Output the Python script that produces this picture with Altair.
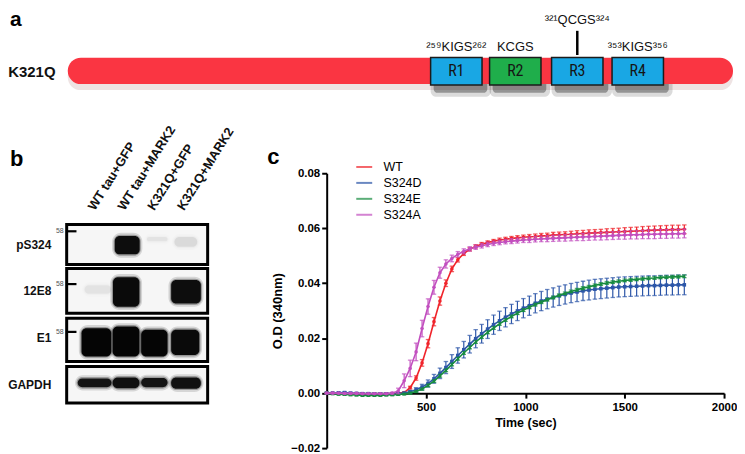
import altair as alt
import pandas as pd

FONT = "Liberation Sans, Arial, sans-serif"
NARROW = "Liberation Sans Narrow, Roboto Condensed, Liberation Sans, sans-serif"

# ------------------------------------------------------------------ panel a data
protein_start = [1]
protein_end = [441]
repeat_names = ["R1", "R2", "R3", "R4"]
repeat_start = [241, 280, 321, 361]
repeat_end = [275, 314, 355, 395]
repeat_colors = ["#19a7e4", "#1fae4b", "#19a7e4", "#19a7e4"]
motif_labels = ["²⁵⁹KIGS²⁶²", "KCGS", "³²¹QCGS³²⁴", "³⁵³KIGS³⁵⁶"]
motif_raised = [False, False, True, False]
construct_name = "K321Q"

# ------------------------------------------------------------------ panel b data
lane_labels = ["WT tau+GFP", "WT tau+MARK2", "K321Q+GFP", "K321Q+MARK2"]
lane_pos = [1, 2, 3, 4]
blot_rows = ["pS324", "12E8", "E1", "GAPDH"]
blot_row_pos = [1, 2, 3, 4]
blot_row_top = [0.574, 1.51, 2.574, 3.604]
blot_row_bottom = [1.426, 2.468, 3.497, 4.383]
marker_rows = [0.717, 1.845, 2.866]
marker_label = "58"
band_lane_lo = [1.62, 2.70, 3.63, 0.60, 1.56, 3.52, 0.50, 1.55, 2.51, 3.52, 0.37, 1.55, 2.51, 3.52]
band_lane_hi = [2.46, 3.40, 4.40, 1.50, 2.45, 4.52, 1.50, 2.45, 3.40, 4.47, 1.51, 2.45, 3.40, 4.52]
band_row_lo = [0.82, 0.84, 0.84, 1.87, 1.70, 1.76, 2.79, 2.75, 2.82, 2.82, 3.86, 3.84, 3.85, 3.84]
band_row_hi = [1.21, 0.93, 1.05, 2.05, 2.33, 2.26, 3.39, 3.39, 3.39, 3.36, 4.05, 4.07, 4.05, 4.08]
band_density = [0.95, 0.05, 0.08, 0.05, 0.97, 0.95, 1.0, 1.0, 1.0, 0.97, 0.9, 0.93, 0.9, 0.93]

# ------------------------------------------------------------------ panel c data
time_s = [0, 30, 60, 90, 120, 150, 180, 210, 240, 270,
          300, 330, 360, 390, 420, 450, 480, 510, 540, 570,
          600, 630, 660, 690, 720, 750, 780, 810, 840, 870,
          900, 930, 960, 990, 1020, 1050, 1080, 1110, 1140, 1170,
          1200, 1230, 1260, 1290, 1320, 1350, 1380, 1410, 1440, 1470,
          1500, 1530, 1560, 1590, 1620, 1650, 1680, 1710, 1740, 1770,
          1800]
wt = [0.0000, 0.0000, -0.0001, -0.0001, -0.0002, -0.0002, -0.0003, -0.0003, -0.0003, -0.0003,
      -0.0003, -0.0002, -0.0001, 0.0002, 0.0020, 0.0055, 0.0110, 0.0180, 0.0260, 0.0335,
      0.0400, 0.0452, 0.0485, 0.0508, 0.0523, 0.0534, 0.0542, 0.0548, 0.0553, 0.0557,
      0.0560, 0.0563, 0.0565, 0.0567, 0.0569, 0.0570, 0.0572, 0.0573, 0.0575, 0.0576,
      0.0577, 0.0578, 0.0580, 0.0581, 0.0582, 0.0583, 0.0584, 0.0585, 0.0586, 0.0587,
      0.0588, 0.0589, 0.0590, 0.0591, 0.0592, 0.0593, 0.0594, 0.0594, 0.0595, 0.0595,
      0.0596]
wt_err = [0.0002, 0.0002, 0.0002, 0.0002, 0.0002, 0.0002, 0.0002, 0.0002, 0.0002, 0.0002,
          0.0002, 0.0002, 0.0002, 0.0003, 0.0005, 0.0008, 0.0012, 0.0015, 0.0015, 0.0015,
          0.0012, 0.0010, 0.0008, 0.0007, 0.0006, 0.0006, 0.0006, 0.0006, 0.0006, 0.0007,
          0.0007, 0.0007, 0.0008, 0.0008, 0.0008, 0.0009, 0.0009, 0.0009, 0.0010, 0.0010,
          0.0010, 0.0011, 0.0011, 0.0011, 0.0012, 0.0012, 0.0012, 0.0013, 0.0013, 0.0013,
          0.0014, 0.0014, 0.0014, 0.0015, 0.0015, 0.0015, 0.0015, 0.0016, 0.0016, 0.0016,
          0.0016]
s324d = [0.0000, 0.0000, 0.0001, 0.0002, 0.0000, -0.0001, -0.0002, -0.0002, -0.0003, -0.0003,
         -0.0003, -0.0003, -0.0002, 0.0000, 0.0005, 0.0012, 0.0022, 0.0035, 0.0052, 0.0072,
         0.0093, 0.0115, 0.0137, 0.0158, 0.0178, 0.0198, 0.0216, 0.0233, 0.0249, 0.0263,
         0.0276, 0.0288, 0.0299, 0.0309, 0.0318, 0.0327, 0.0335, 0.0342, 0.0348, 0.0354,
         0.0359, 0.0364, 0.0368, 0.0372, 0.0375, 0.0378, 0.0380, 0.0382, 0.0384, 0.0386,
         0.0387, 0.0388, 0.0389, 0.0390, 0.0391, 0.0391, 0.0392, 0.0393, 0.0393, 0.0394,
         0.0394]
s324d_err = [0.0003, 0.0003, 0.0003, 0.0003, 0.0003, 0.0003, 0.0003, 0.0003, 0.0003, 0.0003,
             0.0003, 0.0003, 0.0003, 0.0003, 0.0005, 0.0008, 0.0010, 0.0013, 0.0016, 0.0019,
             0.0022, 0.0025, 0.0028, 0.0030, 0.0032, 0.0033, 0.0034, 0.0034, 0.0035, 0.0035,
             0.0035, 0.0035, 0.0035, 0.0035, 0.0035, 0.0035, 0.0035, 0.0035, 0.0035, 0.0035,
             0.0035, 0.0035, 0.0035, 0.0035, 0.0036, 0.0036, 0.0036, 0.0036, 0.0036, 0.0036,
             0.0036, 0.0036, 0.0036, 0.0036, 0.0036, 0.0036, 0.0036, 0.0036, 0.0036, 0.0036,
             0.0036]
s324e = [0.0000, -0.0002, -0.0004, -0.0005, -0.0006, -0.0007, -0.0008, -0.0008, -0.0008, -0.0008,
         -0.0007, -0.0006, -0.0005, -0.0003, 0.0000, 0.0006, 0.0015, 0.0028, 0.0044, 0.0063,
         0.0083, 0.0104, 0.0125, 0.0146, 0.0166, 0.0186, 0.0204, 0.0221, 0.0237, 0.0252,
         0.0266, 0.0279, 0.0291, 0.0302, 0.0312, 0.0322, 0.0331, 0.0340, 0.0348, 0.0356,
         0.0363, 0.0370, 0.0376, 0.0382, 0.0387, 0.0392, 0.0397, 0.0401, 0.0404, 0.0407,
         0.0410, 0.0412, 0.0414, 0.0416, 0.0418, 0.0419, 0.0421, 0.0422, 0.0423, 0.0424,
         0.0425]
s324e_err = [0.0003, 0.0003, 0.0003, 0.0003, 0.0003, 0.0003, 0.0003, 0.0003, 0.0003, 0.0003,
             0.0003, 0.0003, 0.0003, 0.0003, 0.0004, 0.0004, 0.0004, 0.0005, 0.0005, 0.0005,
             0.0005, 0.0005, 0.0005, 0.0005, 0.0005, 0.0005, 0.0005, 0.0005, 0.0005, 0.0005,
             0.0005, 0.0005, 0.0005, 0.0005, 0.0005, 0.0005, 0.0005, 0.0005, 0.0005, 0.0005,
             0.0005, 0.0005, 0.0005, 0.0005, 0.0005, 0.0005, 0.0005, 0.0005, 0.0005, 0.0005,
             0.0005, 0.0005, 0.0005, 0.0005, 0.0005, 0.0005, 0.0005, 0.0005, 0.0005, 0.0005,
             0.0005]
s324a = [0.0000, 0.0000, 0.0000, -0.0001, -0.0001, -0.0001, -0.0002, -0.0002, -0.0002, -0.0002,
         -0.0002, 0.0000, 0.0008, 0.0045, 0.0090, 0.0150, 0.0235, 0.0315, 0.0385, 0.0438,
         0.0470, 0.0490, 0.0505, 0.0516, 0.0525, 0.0531, 0.0536, 0.0541, 0.0545, 0.0548,
         0.0551, 0.0553, 0.0555, 0.0557, 0.0558, 0.0560, 0.0561, 0.0562, 0.0563, 0.0564,
         0.0565, 0.0566, 0.0567, 0.0568, 0.0569, 0.0570, 0.0571, 0.0572, 0.0573, 0.0574,
         0.0575, 0.0576, 0.0576, 0.0577, 0.0578, 0.0578, 0.0579, 0.0579, 0.0580, 0.0580,
         0.0581]
s324a_err = [0.0002, 0.0002, 0.0002, 0.0002, 0.0002, 0.0002, 0.0002, 0.0002, 0.0002, 0.0002,
             0.0002, 0.0003, 0.0010, 0.0025, 0.0030, 0.0032, 0.0030, 0.0028, 0.0025, 0.0020,
             0.0015, 0.0012, 0.0010, 0.0009, 0.0008, 0.0008, 0.0008, 0.0008, 0.0008, 0.0008,
             0.0008, 0.0009, 0.0009, 0.0009, 0.0010, 0.0010, 0.0010, 0.0011, 0.0011, 0.0011,
             0.0012, 0.0012, 0.0012, 0.0013, 0.0013, 0.0013, 0.0014, 0.0014, 0.0014, 0.0014,
             0.0015, 0.0015, 0.0015, 0.0015, 0.0016, 0.0016, 0.0016, 0.0016, 0.0016, 0.0016,
             0.0016]
series_names = ["WT", "S324D", "S324E", "S324A"]
series_colors = ["#f0242b", "#2c56a8", "#178c3f", "#c24fbf"]
series_shapes = ["circle", "square", "triangle-up", "circle"]
y_ticks = [-0.02, 0.0, 0.02, 0.04, 0.06, 0.08]
x_ticks = [500, 1000, 1500, 2000]

# ================================================================== panel a
A_W, A_H = 729, 164.7
xa = alt.Scale(domain=[-38.52, 441.66], nice=False, zero=False)
ya = alt.Scale(domain=[0, A_H], nice=False, zero=False, reverse=True)
BAR_Y = (49.0, 75.5)
BOX_Y = (48.7, 76.3)
MOTIF_BASE = 42.0
RAISED_BASE = 15.3
TICK_Y = (22.0, 46.3)


def AX(f):
    return alt.X(f, type="quantitative", scale=xa, axis=None)


def AY(f):
    return alt.Y(f, type="quantitative", scale=ya, axis=None)


centers = [(s + e) / 2 for s, e in zip(repeat_start, repeat_end)]

bar_shadow_df = pd.DataFrame({"x0": protein_start, "x1": protein_end,
                              "y0": [BAR_Y[0] + 5], "y1": [BAR_Y[1] + 6]})
bar_df = pd.DataFrame({"x0": protein_start, "x1": protein_end,
                       "y0": [BAR_Y[0]], "y1": [BAR_Y[1]]})
box_df = pd.DataFrame({"x0": repeat_start, "x1": repeat_end, "c": repeat_colors,
                       "name": repeat_names, "xc": centers,
                       "y0": BOX_Y[0], "y1": BOX_Y[1], "ym": (BOX_Y[0] + BOX_Y[1]) / 2})
shadow1 = pd.DataFrame({"x0": [s + 2 for s in repeat_start], "x1": [e + 3.5 for e in repeat_end],
                        "y0": BOX_Y[0] + 9, "y1": BOX_Y[1] + 8})
shadow2 = pd.DataFrame({"x0": [s for s in repeat_start], "x1": [e + 6 for e in repeat_end],
                        "y0": BOX_Y[0] + 8, "y1": BOX_Y[1] + 12})
motif_df = pd.DataFrame({"x": centers, "t": motif_labels,
                         "y": [RAISED_BASE if r else MOTIF_BASE for r in motif_raised]})
tick_df = pd.DataFrame({"x": [centers[2]], "y0": [TICK_Y[0]], "y1": [TICK_Y[1]]})
name_df = pd.DataFrame({"x": [-7.1], "y": [63.0], "t": [construct_name]})
a_lab_df = pd.DataFrame({"x": [-37.2], "y": [17.0], "t": ["a"]})

panel_a = alt.layer(
    alt.Chart(bar_shadow_df).mark_rect(cornerRadius=13, color="#7a2328", opacity=0.13).encode(
        x=AX("x0"), x2="x1", y=AY("y0"), y2="y1"),
    alt.Chart(shadow2).mark_rect(color="#000000", opacity=0.14, cornerRadius=6).encode(
        x=AX("x0"), x2="x1", y=AY("y0"), y2="y1"),
    alt.Chart(shadow1).mark_rect(color="#000000", opacity=0.32, cornerRadius=4).encode(
        x=AX("x0"), x2="x1", y=AY("y0"), y2="y1"),
    alt.Chart(bar_df).mark_rect(cornerRadius=13.25, color="#fa3542").encode(
        x=AX("x0"), x2="x1", y=AY("y0"), y2="y1"),
    alt.Chart(box_df).mark_rect(stroke="#1b1b1b", strokeWidth=1.5).encode(
        x=AX("x0"), x2="x1", y=AY("y0"), y2="y1", fill=alt.Fill("c:N", scale=None)),
    alt.Chart(box_df).mark_text(font=NARROW, fontSize=16, color="#151515", baseline="middle").encode(
        x=AX("xc"), y=AY("ym"), text="name:N"),
    alt.Chart(motif_df).mark_text(font=FONT, fontSize=13, color="#111111", baseline="alphabetic").encode(
        x=AX("x"), y=AY("y"), text="t:N"),
    alt.Chart(tick_df).mark_rule(strokeWidth=2.5, color="#000000").encode(
        x=AX("x"), y=AY("y0"), y2="y1"),
    alt.Chart(name_df).mark_text(font=FONT, fontSize=15, fontWeight="bold", align="right",
                                 baseline="middle", color="#111111").encode(
        x=AX("x"), y=AY("y"), text="t:N"),
    alt.Chart(a_lab_df).mark_text(font=FONT, fontSize=21, fontWeight="bold", align="left",
                                  baseline="alphabetic", color="#000000").encode(
        x=AX("x"), y=AY("y"), text="t:N"),
).properties(width=A_W, height=A_H)

# ================================================================== panel b
B_W, B_H = 320, 276
xb = alt.Scale(domain=[-1.977, 8.761], nice=False, zero=False)
yb = alt.Scale(domain=[-0.523, 5.349], nice=False, zero=False, reverse=True)
BOX_X = (0.0, 4.75)


def BX(f):
    return alt.X(f, type="quantitative", scale=xb, axis=None)


def BY(f):
    return alt.Y(f, type="quantitative", scale=yb, axis=None)


frame_df = pd.DataFrame({"x0": BOX_X[0], "x1": BOX_X[1], "y0": blot_row_top, "y1": blot_row_bottom})
band_df = pd.DataFrame({"x0": band_lane_lo, "x1": band_lane_hi, "y0": band_row_lo,
                        "y1": band_row_hi, "a": band_density})
halo_df = pd.DataFrame({"x0": [v - 0.09 for v in band_lane_lo], "x1": [v + 0.09 for v in band_lane_hi],
                        "y0": [v - 0.07 for v in band_row_lo], "y1": [v + 0.07 for v in band_row_hi],
                        "a": [d * 0.14 for d in band_density]})
halo2_df = pd.DataFrame({"x0": [v - 0.04 for v in band_lane_lo], "x1": [v + 0.04 for v in band_lane_hi],
                         "y0": [v - 0.03 for v in band_row_lo], "y1": [v + 0.03 for v in band_row_hi],
                         "a": [d * 0.3 for d in band_density]})
row_lab_df = pd.DataFrame({"x": -0.517, "y": blot_row_pos, "t": blot_rows})
lane_lab_df = pd.DataFrame({"x": [p - 0.05 for p in lane_pos], "y": 0.29, "t": lane_labels})
mk_tick_df = pd.DataFrame({"x0": 0.04, "x1": 0.33, "y": marker_rows})
mk_lab_df = pd.DataFrame({"x": -0.1, "y": marker_rows, "t": marker_label})
b_lab_df = pd.DataFrame({"x": [-1.909], "y": [-0.687], "t": ["b"]})

panel_b = alt.layer(
    alt.Chart(frame_df).mark_rect(fill="#f6f6f6", stroke="#000000", strokeWidth=3).encode(
        x=BX("x0"), x2="x1", y=BY("y0"), y2="y1"),
    alt.Chart(halo_df).mark_rect(color="#000000", cornerRadius=9).encode(
        x=BX("x0"), x2="x1", y=BY("y0"), y2="y1", opacity=alt.Opacity("a:Q", scale=None)),
    alt.Chart(halo2_df).mark_rect(color="#000000", cornerRadius=7).encode(
        x=BX("x0"), x2="x1", y=BY("y0"), y2="y1", opacity=alt.Opacity("a:Q", scale=None)),
    alt.Chart(band_df).mark_rect(color="#050505", cornerRadius=5).encode(
        x=BX("x0"), x2="x1", y=BY("y0"), y2="y1", opacity=alt.Opacity("a:Q", scale=None)),
    alt.Chart(mk_tick_df).mark_rule(strokeWidth=2.2, color="#000000").encode(
        x=BX("x0"), x2="x1", y=BY("y")),
    alt.Chart(mk_lab_df).mark_text(font=FONT, fontSize=7, color="#555555", align="right",
                                   baseline="middle").encode(x=BX("x"), y=BY("y"), text="t:N"),
    alt.Chart(row_lab_df).mark_text(font=FONT, fontSize=12, fontWeight="bold", align="right",
                                    baseline="middle", color="#111111").encode(
        x=BX("x"), y=BY("y"), text="t:N"),
    alt.Chart(lane_lab_df).mark_text(font=FONT, fontSize=13, fontWeight="bold", align="left",
                                     baseline="alphabetic", angle=302, color="#111111").encode(
        x=BX("x"), y=BY("y"), text="t:N"),
    alt.Chart(b_lab_df).mark_text(font=FONT, fontSize=22, fontWeight="bold", align="left",
                                  baseline="alphabetic", color="#000000").encode(
        x=BX("x"), y=BY("y"), text="t:N"),
).properties(width=B_W, height=B_H)

# ================================================================== panel c
C_W, C_H = 399, 276
C_LEFT, C_TOP = B_W, A_H          # where panel c's plot sits in the whole figure
xs = alt.Scale(domain=[0, 2000], nice=False, zero=False)
ys = alt.Scale(domain=[-0.02, 0.08], nice=False, zero=False)
axis_common = dict(grid=False, domainColor="#000000", domainWidth=2, tickColor="#000000",
                   tickWidth=2, tickSize=5, labelFont=FONT, labelFontWeight="bold",
                   labelFontSize=11.5, labelColor="#000000", titleFont=FONT,
                   titleFontWeight="bold", titleColor="#000000", labelFlush=False)
x_axis = alt.Axis(values=x_ticks, format="d", title="Time (sec)", offset=-55.2, labelPadding=3,
                  titlePadding=4, titleFontSize=12.5, **axis_common)
y_axis = alt.Axis(values=y_ticks, format=".2f", title="O.D (340nm)", labelPadding=2,
                  titlePadding=6, titleFontSize=13, **axis_common)
CX = alt.X("t:Q", scale=xs, axis=x_axis)
CY = alt.Y("v:Q", scale=ys, axis=y_axis)
color_scale = alt.Scale(domain=series_names, range=series_colors)
legend = alt.Legend(orient="none", legendX=C_LEFT + 28.7, legendY=C_TOP - 15, title=None,
                    symbolType="stroke", symbolSize=256, symbolStrokeWidth=2,
                    labelFont=FONT, labelFontSize=12.5, labelColor="#000000",
                    labelOffset=10.3, rowPadding=0, padding=0)
COL = alt.Color("series:N", scale=color_scale, legend=legend)

layers = []
for name, vals, errs, shape in zip(series_names, [wt, s324d, s324e, s324a],
                                   [wt_err, s324d_err, s324e_err, s324a_err], series_shapes):
    df = pd.DataFrame({"t": time_s, "v": vals,
                       "lo": [v - e for v, e in zip(vals, errs)],
                       "hi": [v + e for v, e in zip(vals, errs)],
                       "series": name})
    base = alt.Chart(df)
    layers += [
        base.mark_line(strokeWidth=1.6).encode(x=CX, y=CY, color=COL),
        base.mark_rule(strokeWidth=1.2).encode(
            x=CX, y=alt.Y("lo:Q", scale=ys, axis=y_axis), y2="hi", color=COL),
        base.mark_tick(orient="horizontal", size=4.5, thickness=1.3).encode(
            x=CX, y=alt.Y("hi:Q", scale=ys, axis=y_axis), color=COL),
        base.mark_tick(orient="horizontal", size=4.5, thickness=1.3).encode(
            x=CX, y=alt.Y("lo:Q", scale=ys, axis=y_axis), color=COL),
        base.mark_point(filled=True, size=13, shape=shape, opacity=1).encode(x=CX, y=CY, color=COL),
    ]

c_lab_df = pd.DataFrame({"t": [-299], "v": [0.0832], "s": ["c"]})
layers.append(alt.Chart(c_lab_df).mark_text(font=FONT, fontSize=22, fontWeight="bold", align="left",
                                            baseline="alphabetic", color="#000000").encode(
    x=CX, y=CY, text="s:N"))

panel_c = alt.layer(*layers).properties(width=C_W, height=C_H)

# ================================================================== assemble
chart = alt.vconcat(
    panel_a,
    alt.hconcat(panel_b, panel_c, spacing=0, bounds="flush"),
    spacing=0, bounds="flush", padding=0,
).configure(font=FONT).configure_view(stroke=None)

chart.save("out.html", embed_options={"renderer": "svg", "actions": False})
